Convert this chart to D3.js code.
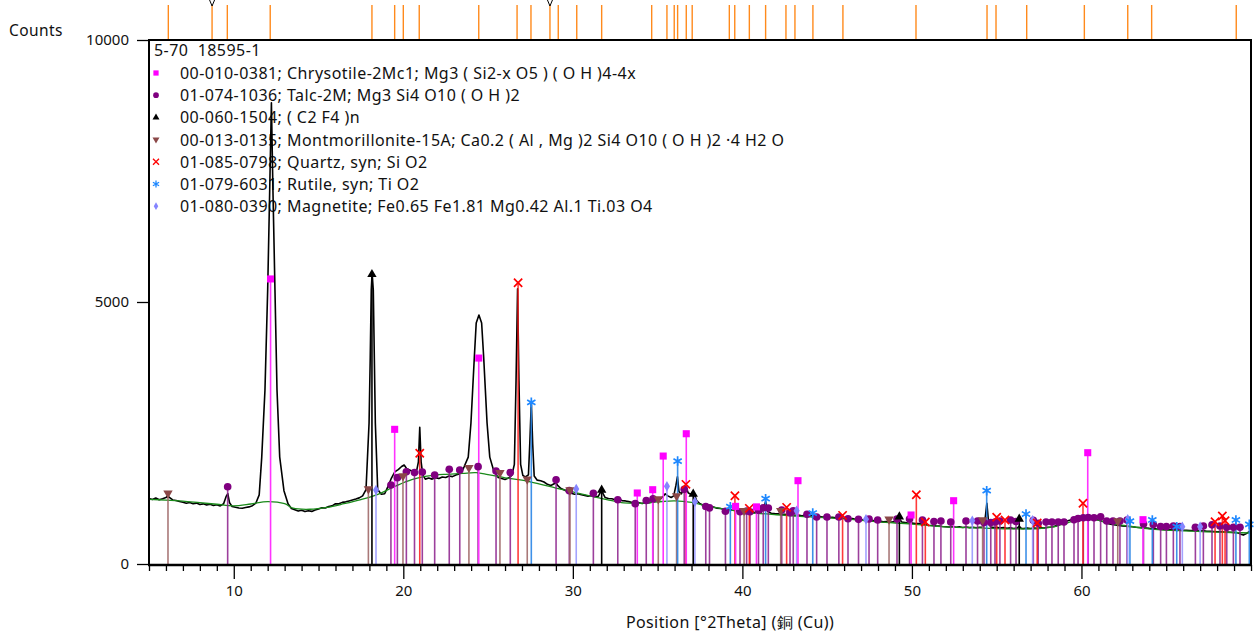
<!DOCTYPE html>
<html><head><meta charset="utf-8">
<script src="https://cdn.jsdelivr.net/npm/d3@7"></script>
<style>
body{margin:0;background:#fff;}
svg{display:block;}
text{font-family:"Noto Sans","Open Sans",sans-serif;fill:#111;white-space:pre;}
</style>
</head><body>
<svg id="c" width="1256" height="635"></svg>
<script>
// ---------- DATA ----------
const xDomain = [5, 70];
const yDomain = [0, 10000];
const xTicks = [10, 20, 30, 40, 50, 60];
const yTicks = [0, 5000, 10000];
const yAxisTitle = "Counts";
const xAxisTitle = "Position [°2Theta] (銅 (Cu))";
const legendTitle = "5-70  18595-1";

// measured profile [2theta, counts]
const profile = [[5.0,1250],[5.2,1232],[5.4,1258],[5.6,1226],[5.8,1244],[6.0,1268],[6.1,1300],[6.2,1270],[6.4,1222],[6.6,1212],[6.8,1192],[7.0,1178],[7.2,1160],[7.4,1172],[7.6,1150],[7.8,1162],[8.0,1136],[8.2,1148],[8.4,1126],[8.6,1140],[8.8,1118],[9.0,1130],[9.2,1108],[9.4,1150],[9.55,1290],[9.65,1340],[9.75,1170],[9.9,1098],[10.1,1082],[10.3,1068],[10.5,1064],[10.7,1078],[10.9,1090],[11.1,1112],[11.3,1160],[11.5,1320],[11.65,2040],[11.84,3320],[12.0,5230],[12.12,7140],[12.22,8800],[12.31,7140],[12.43,5230],[12.55,3320],[12.71,2040],[12.96,1400],[13.2,1150],[13.4,1060],[13.6,1035],[13.8,1010],[14.0,1024],[14.2,1000],[14.4,1018],[14.6,1004],[14.8,1030],[15.0,1050],[15.2,1072],[15.4,1068],[15.6,1096],[15.8,1110],[16.0,1150],[16.2,1148],[16.4,1176],[16.6,1186],[16.8,1204],[17.0,1222],[17.2,1240],[17.4,1262],[17.6,1300],[17.8,1420],[17.98,2690],[18.05,3950],[18.11,5230],[18.16,5550],[18.23,5230],[18.29,3950],[18.35,2690],[18.49,1420],[18.7,1330],[18.9,1340],[19.1,1480],[19.3,1640],[19.5,1760],[19.7,1800],[19.9,1860],[20.05,1890],[20.2,1820],[20.4,1790],[20.6,1760],[20.8,1800],[20.89,1950],[20.97,2610],[21.05,1950],[21.15,1700],[21.3,1620],[21.5,1640],[21.7,1620],[21.9,1648],[22.1,1630],[22.3,1660],[22.5,1650],[22.7,1680],[22.9,1668],[23.1,1700],[23.3,1720],[23.45,1760],[23.58,1850],[23.83,2040],[23.99,2690],[24.09,3320],[24.19,3950],[24.3,4600],[24.46,4750],[24.62,4600],[24.74,3950],[24.84,3320],[24.94,2690],[25.1,2040],[25.35,1760],[25.6,1650],[25.8,1630],[26.0,1614],[26.2,1640],[26.4,1690],[26.55,1900],[26.65,3500],[26.74,5250],[26.82,3500],[26.92,1900],[27.05,1690],[27.2,1660],[27.38,1700],[27.46,2300],[27.55,3080],[27.63,2300],[27.72,1680],[27.9,1600],[28.1,1590],[28.3,1565],[28.5,1520],[28.7,1500],[28.9,1530],[29.0,1560],[29.1,1500],[29.3,1440],[29.5,1412],[29.7,1380],[29.9,1350],[30.1,1330],[30.3,1342],[30.5,1320],[30.7,1310],[30.9,1294],[31.1,1306],[31.3,1284],[31.5,1292],[31.65,1380],[31.75,1360],[31.9,1270],[32.1,1250],[32.3,1246],[32.5,1228],[32.7,1236],[32.9,1210],[33.1,1204],[33.3,1190],[33.5,1174],[33.7,1186],[33.9,1166],[34.1,1154],[34.3,1180],[34.5,1168],[34.7,1190],[34.9,1210],[35.1,1222],[35.3,1280],[35.45,1340],[35.6,1300],[35.8,1270],[35.95,1300],[36.08,1500],[36.17,1665],[36.26,1380],[36.4,1340],[36.55,1440],[36.68,1475],[36.8,1360],[36.95,1330],[37.07,1380],[37.15,1350],[37.3,1210],[37.5,1150],[37.7,1120],[37.9,1100],[38.1,1080],[38.3,1088],[38.5,1066],[38.7,1058],[38.9,1044],[39.1,1050],[39.3,1030],[39.5,1036],[39.7,1010],[39.9,1000],[40.1,1006],[40.3,988],[40.5,996],[40.7,980],[40.9,990],[41.1,984],[41.25,1060],[41.37,1190],[41.5,1000],[41.7,970],[41.9,962],[42.1,956],[42.3,944],[42.5,950],[42.7,936],[42.9,940],[43.1,928],[43.3,934],[43.5,920],[43.7,926],[43.9,916],[44.1,924],[44.3,905],[44.5,910],[44.7,896],[44.9,900],[45.1,886],[45.3,892],[45.5,880],[45.7,884],[45.9,872],[46.1,876],[46.3,862],[46.5,866],[46.7,850],[46.9,856],[47.1,838],[47.3,844],[47.5,826],[47.7,832],[47.9,812],[48.1,818],[48.3,804],[48.5,810],[48.7,798],[48.9,806],[49.1,810],[49.26,860],[49.4,800],[49.6,790],[49.8,778],[50.0,784],[50.2,770],[50.4,774],[50.6,760],[50.8,756],[51.0,740],[51.2,736],[51.4,728],[51.6,724],[51.8,716],[52.0,712],[52.2,706],[52.4,714],[52.6,702],[52.8,708],[53.0,698],[53.2,706],[53.4,694],[53.6,702],[53.8,692],[54.0,700],[54.2,706],[54.33,900],[54.42,1160],[54.52,800],[54.65,704],[54.85,694],[55.0,700],[55.2,688],[55.4,694],[55.6,682],[55.8,690],[56.0,678],[56.2,684],[56.33,720],[56.45,680],[56.6,676],[56.8,684],[57.0,678],[57.2,686],[57.4,682],[57.6,692],[57.8,688],[58.0,700],[58.2,706],[58.4,718],[58.6,740],[58.8,772],[59.0,806],[59.2,826],[59.4,846],[59.6,856],[59.8,866],[60.0,872],[60.2,868],[60.4,870],[60.6,862],[60.8,856],[61.0,840],[61.2,818],[61.4,790],[61.6,770],[61.8,756],[62.0,744],[62.2,736],[62.4,728],[62.6,720],[62.8,716],[63.0,710],[63.2,702],[63.4,698],[63.6,692],[63.8,688],[64.0,680],[64.2,676],[64.4,670],[64.6,666],[64.8,660],[65.0,656],[65.2,652],[65.4,654],[65.6,648],[65.8,650],[66.0,646],[66.2,644],[66.4,640],[66.6,638],[66.8,634],[67.0,630],[67.2,632],[67.4,626],[67.6,624],[67.8,620],[68.0,616],[68.2,618],[68.4,612],[68.6,610],[68.8,606],[69.0,604],[69.2,596],[69.4,570],[69.55,552],[69.7,575],[69.85,610],[70.0,617]];

// fitted background [2theta, counts]
const background = [[5,1234],[6,1220],[7,1200],[8,1170],[9,1140],[10,1110],[11,1145],[12,1190],[13,1150],[13.5,1065],[14.5,1045],[15.5,1080],[16.5,1150],[17.5,1230],[18.5,1330],[19.5,1480],[20.5,1610],[21.5,1680],[22.5,1712],[23.5,1730],[24.3,1742],[25,1705],[26,1645],[27,1600],[28,1530],[29,1450],[30,1375],[31,1300],[32,1230],[33,1165],[34,1158],[35,1185],[36,1205],[37,1175],[38,1100],[39,1045],[40,995],[42,940],[44,898],[46,860],[48,804],[50,762],[52,708],[54,688],[56,670],[57.5,676],[58.5,720],[59.3,800],[60,860],[60.7,862],[61.5,790],[62.5,735],[64,672],[66,632],[68,608],[70,592]];

// reference patterns [2theta, counts]
const chrysotile = [[12.17,5440],[19.49,2570],[24.45,3930],[33.80,1355],[34.71,1418],[35.33,2060],[36.69,2486],[39.60,1100],[40.83,1090],[43.28,1590],[49.95,935],[52.46,1208],[60.37,2124],[63.63,846]];
const talc = [[9.64,1475],[19.27,1507],[19.65,1647],[20.18,1761],[20.66,1746],[21.12,1755],[21.85,1698],[22.71,1807],[23.33,1794],[24.41,1857],[25.47,1774],[26.31,1746],[29.01,1608],[29.79,1399],[31.21,1349],[32.65,1227],[33.68,1151],[34.33,1212],[34.73,1242],[36.57,1425],[37.84,1097],[38.06,1072],[39.00,1007],[39.86,998],[40.25,1011],[40.45,998],[40.95,1025],[41.23,1074],[41.53,1068],[42.32,1030],[42.81,979],[43.00,1017],[43.81,948],[44.38,897],[44.99,897],[45.69,897],[46.23,864],[46.85,853],[47.47,859],[47.98,840],[49.12,859],[49.86,859],[50.62,840],[51.30,811],[51.71,820],[52.29,801],[53.19,820],[53.87,820],[54.25,792],[54.65,792],[54.90,801],[55.19,820],[55.82,840],[56.14,811],[57.16,834],[57.45,777],[57.91,801],[58.26,801],[58.63,801],[58.97,801],[59.56,845],[59.80,868],[60.11,883],[60.40,887],[60.74,883],[61.13,900],[61.49,820],[61.86,820],[62.27,820],[62.69,840],[63.66,763],[64.24,754],[64.67,715],[65.01,715],[65.42,725],[65.81,715],[66.72,700],[67.19,725],[67.70,748],[68.17,725],[68.57,700],[68.96,700],[69.35,700]];
const c2f4 = [[18.15,5527],[31.70,1412],[37.10,1336],[49.26,903],[56.33,859]];
const montmorillonite = [[6.12,1349],[17.94,1431],[19.98,1679],[23.87,1838],[25.70,1742],[27.31,1616],[29.83,1412],[35.04,1240],[36.12,1297],[40.10,1017],[42.26,1017],[48.65,853],[54.17,840],[62.14,820]];
const quartz = [[20.97,2112],[26.77,5367],[36.67,1520],[39.56,1303],[40.41,1062],[42.61,1081],[45.91,928],[50.26,1323],[50.79,801],[55.00,891],[55.49,840],[57.39,782],[60.09,1158],[67.88,807],[68.31,916],[68.47,826]];
const rutile = [[27.55,3085],[36.18,1965],[39.29,1094],[41.37,1246],[44.15,973],[54.41,1399],[56.73,954],[62.86,820],[64.18,840],[65.62,712],[69.11,840],[69.90,757]];
const magnetite = [[18.39,1412],[30.20,1431],[35.55,1482],[37.20,1189],[43.20,1017],[47.29,853],[53.56,826],[57.12,834],[62.73,853],[65.95,712],[67.00,712]];

// peak list (top strip)
const peakList = [6.14,8.72,9.62,12.15,18.15,19.49,20.0,20.94,24.45,26.71,27.53,28.65,29.14,30.23,31.70,34.65,35.55,35.98,36.18,36.69,37.04,39.23,39.55,40.41,41.37,42.57,43.10,44.16,45.93,50.24,54.43,54.96,56.77,60.17,62.73,64.14,69.13];
const topMarks = [8.72, 28.65];

const legendLabels = [
  "00-010-0381; Chrysotile-2Mc1; Mg3 ( Si2-x O5 ) ( O H )4-4x",
  "01-074-1036; Talc-2M; Mg3 Si4 O10 ( O H )2",
  "00-060-1504; ( C2 F4 )n",
  "00-013-0135; Montmorillonite-15A; Ca0.2 ( Al , Mg )2 Si4 O10 ( O H )2 ·4 H2 O",
  "01-085-0798; Quartz, syn; Si O2",
  "01-079-6031; Rutile, syn; Ti O2",
  "01-080-0390; Magnetite; Fe0.65 Fe1.81 Mg0.42 Al.1 Ti.03 O4"
];

// ---------- CHART ----------
const svg = d3.select("#c");
const L = 149, R = 1251, T = 40, B = 564;
const x = d3.scaleLinear().domain(xDomain).range([L, R]);
const y = d3.scaleLinear().domain(yDomain).range([B, T]);

const phases = [
  {data: chrysotile, label: legendLabels[0], type: d3.symbolSquare, size: 50, fill: "#ff00ff", stroke: null, stick: "#ff33ff", op: 1},
  {data: talc, label: legendLabels[1], type: d3.symbolCircle, size: 46, fill: "#800080", stroke: null, stick: "#8b1e8b", op: 0.85},
  {data: c2f4, label: legendLabels[2], type: d3.symbolTriangle, size: 38, fill: "#000", stroke: null, stick: "#000", op: 1},
  {data: montmorillonite, label: legendLabels[3], type: d3.symbolTriangle, size: 38, fill: "#8b4848", stroke: null, stick: "#a06a6a", op: 0.9, rot: 180},
  {data: quartz, label: legendLabels[4], type: d3.symbolTimes, size: 46, fill: "none", stroke: "#ff0000", stick: "#ff1a1a", op: 0.85},
  {data: rutile, label: legendLabels[5], type: d3.symbolAsterisk, size: 64, fill: "none", stroke: "#1e88ff", stick: "#2a86e6", op: 0.9},
  {data: magnetite, label: legendLabels[6], type: d3.symbolDiamond, size: 32, fill: "#8585ff", stroke: null, stick: "#9a9aff", op: 0.9}
];

// top peak list
svg.append("g").selectAll("line").data(peakList).join("line")
  .attr("x1", d => x(d)).attr("x2", d => x(d))
  .attr("y1", 5).attr("y2", T - 1)
  .attr("stroke", "#ff8a1c").attr("stroke-width", 1.4);
svg.append("g").selectAll("path").data(topMarks).join("path")
  .attr("d", d => `M${x(d)-2.5},0 L${x(d)},6 L${x(d)+2.5},0`)
  .attr("fill", "none").attr("stroke", "#000").attr("stroke-width", 1);

// legend
const legendFont = "16px", legendSpacing = "0.45px";
const lg = svg.append("g");
lg.append("text").attr("x", 154).attr("y", 50).attr("dominant-baseline", "central")
  .style("font-size", legendFont).style("letter-spacing", legendSpacing).text(legendTitle);
phases.forEach((p, i) => {
  const cy = 73 + i * 22.2;
  lg.append("path")
    .attr("d", d3.symbol().type(p.type).size(p.size * 0.55)())
    .attr("transform", `translate(156,${cy})` + (p.rot ? " rotate(180)" : ""))
    .attr("fill", p.fill).attr("stroke", p.stroke || "none").attr("stroke-width", 1.3);
  lg.append("text").attr("x", 180).attr("y", cy).attr("dominant-baseline", "central")
    .style("font-size", legendFont).style("letter-spacing", legendSpacing).text(p.label);
});

// profile
const line = d3.line().x(d => x(d[0])).y(d => y(d[1]));
svg.append("path").datum(profile).attr("d", line)
  .attr("fill", "none").attr("stroke", "#000").attr("stroke-width", 1.6).attr("stroke-linejoin", "round");

// background
svg.append("path").datum(background)
  .attr("d", d3.line().x(d => x(d[0])).y(d => y(d[1])).curve(d3.curveCatmullRom))
  .attr("fill", "none").attr("stroke", "#1a8a1a").attr("stroke-width", 1.3);

// sticks (chrysotile last / on top)
const drawOrder = [1, 3, 6, 5, 4, 2, 0];
drawOrder.forEach(i => {
  const p = phases[i];
  svg.append("g").selectAll("line").data(p.data).join("line")
    .attr("x1", d => x(d[0])).attr("x2", d => x(d[0]))
    .attr("y1", y(0)).attr("y2", d => y(d[1]))
    .attr("stroke", p.stick).attr("stroke-width", 1.6).attr("opacity", p.op);
});
drawOrder.forEach(i => {
  const p = phases[i];
  const sym = d3.symbol().type(p.type).size(p.size)();
  svg.append("g").selectAll("path").data(p.data).join("path")
    .attr("d", sym)
    .attr("transform", d => `translate(${x(d[0])},${y(d[1])})` + (p.rot ? " rotate(180)" : ""))
    .attr("fill", p.fill).attr("stroke", p.stroke || "none").attr("stroke-width", 1.7);
});

// frame
svg.append("path")
  .attr("d", `M${L},${B+1} L${L},${T} L${R},${T} L${R},${B+1}`)
  .attr("fill", "none").attr("stroke", "#000").attr("stroke-width", 2);
svg.append("line").attr("x1", L - 1).attr("x2", R + 1).attr("y1", B + 1).attr("y2", B + 1)
  .attr("stroke", "#000").attr("stroke-width", 2.5);

// axes
const minor = d3.range(xDomain[0], xDomain[1] + 1).filter(v => xTicks.indexOf(v) < 0);
const gxm = svg.append("g").attr("transform", `translate(0,${B + 1})`)
  .call(d3.axisBottom(x).tickValues(minor).tickSize(6).tickFormat(""));
const gx = svg.append("g").attr("transform", `translate(0,${B + 1})`)
  .call(d3.axisBottom(x).tickValues(xTicks).tickSize(14).tickPadding(6).tickFormat(d3.format("d")));
const gy = svg.append("g").attr("transform", `translate(${L},0)`)
  .call(d3.axisLeft(y).tickValues(yTicks).tickSize(12).tickPadding(8).tickFormat(d3.format("d")));
[gxm, gx, gy].forEach(g => {
  g.select(".domain").remove();
  g.selectAll(".tick line").attr("stroke", "#000").attr("stroke-width", 1.3);
  g.selectAll(".tick text").style("font-size", "15px").style("font-family", '"Noto Sans","Open Sans",sans-serif').attr("fill", "#111");
});

svg.append("text").attr("x", 9).attr("y", 30).attr("dominant-baseline", "central")
  .style("font-size", "15.5px").style("letter-spacing", "0.4px").text(yAxisTitle);
svg.append("text").attr("x", 730).attr("y", 622).attr("text-anchor", "middle").attr("dominant-baseline", "central")
  .style("font-size", "16px").style("letter-spacing", "0.4px").text(xAxisTitle);
</script>
</body></html>
